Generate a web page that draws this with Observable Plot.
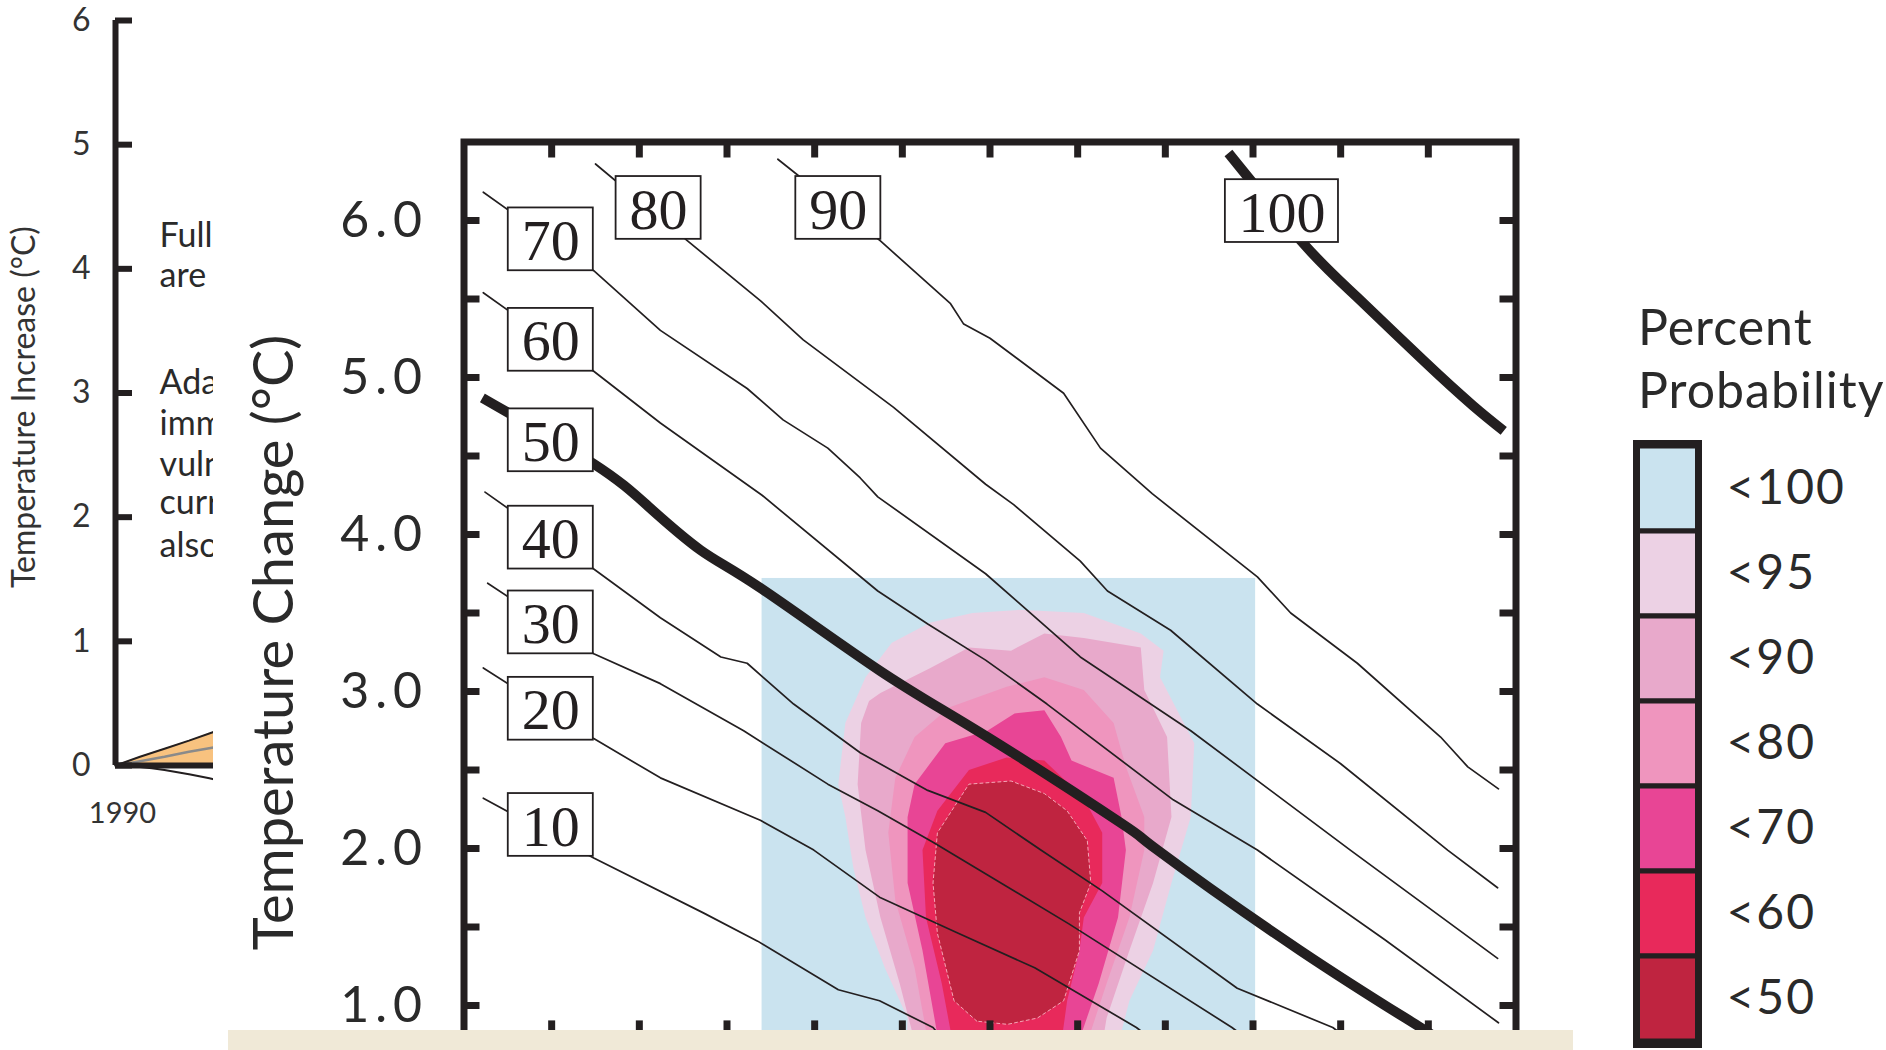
<!DOCTYPE html>
<html><head><meta charset="utf-8">
<script src="https://cdn.jsdelivr.net/npm/d3@7"></script>
<script src="https://cdn.jsdelivr.net/npm/@observablehq/plot@0.6"></script>
<style>
html,body{margin:0;padding:0;background:#fff;width:1886px;height:1050px;overflow:hidden;position:relative;font-family:Lato,sans-serif;color:#231f20}
#left{position:absolute;left:0;top:0}
#main{position:absolute;left:213px;top:0}
#legend{position:absolute;left:1600px;top:0}
#ltitle{position:absolute;left:1638px;top:295px;font-size:50px;line-height:63px;color:#2a2a2a;letter-spacing:1px}
#beige{position:absolute;left:228px;top:1030px;width:1345px;height:20px;background:#f0e9d7}
#main g[aria-label="y-axis tick label"] text{letter-spacing:6px}
#legend g[aria-label="y-axis tick label"] text{letter-spacing:2px}
</style></head><body>
<div id="left"></div><div id="main"></div><div id="legend"></div>
<div id="ltitle">Percent<br>Probability</div>
<div id="beige"></div>
<script>
// ---------- left (cropped) panel ----------
const leftYears = [1990, 1995, 2000, 2005, 2010];
const leftUpper = [0, 0.07, 0.135, 0.2, 0.27];
const leftMid   = [0, 0.035, 0.07, 0.11, 0.145];
const leftLower = [0, -0.01, -0.035, -0.07, -0.11];
const leftTicks = [0, 1, 2, 3, 4, 5, 6];
const leftNotes = ["Full", "are", "Ada", "imm", "vuln", "curr", "also"];
const leftNoteY = [4.26, 3.94, 3.08, 2.75, 2.42, 2.11, 1.77];
const leftNoteYear = 1999;

// ---------- main chart ----------
const yLabels = [1, 2, 3, 4, 5, 6];
const yTicks = [1, 1.5, 2, 2.5, 3, 3.5, 4, 4.5, 5, 5.5, 6];
const xTicks = [1, 2, 3, 4, 5, 6, 7, 8, 9, 10, 11];

const line10 = [[0.22,2.32],[1.48,1.94],[2.73,1.59],[3.35,1.41],[4.27,1.10],[4.74,1.03],[5.35,0.86],[5.5,0.76]];
const line20 = [[0.22,3.15],[1.48,2.70],[2.24,2.45],[3.38,2.18],[3.99,1.99],[4.74,1.69],[5.6,1.47],[6.51,1.24],[7.67,0.86],[7.9,0.76]];
const line30 = [[0.27,3.69],[1.48,3.24],[2.24,3.05],[3.19,2.75],[4.15,2.41],[4.72,2.24],[5.35,2.04],[6.90,1.52],[8.76,0.86],[8.95,0.78]];
const line40 = [[0.24,4.27],[1.48,3.78],[2.24,3.47],[2.93,3.22],[3.23,3.18],[3.76,2.92],[4.52,2.61],[5.29,2.37],[5.95,2.23],[6.58,1.99],[7.28,1.73],[8.82,1.11],[9.91,0.86],[10.1,0.78]];
const line50 = [[0.21,4.87],[1.48,4.45],[2.1,4.18],[2.70,3.90],[3.38,3.66],[4.75,3.13],[5.97,2.71],[7.50,2.16],[7.91,1.99],[9.54,1.35],[10.91,0.86],[11.1,0.78]];
const line60 = [[0.22,5.54],[1.48,5.04],[2.24,4.71],[3.4,4.25],[4.72,3.64],[5.29,3.43],[5.95,3.20],[6.65,2.92],[8.09,2.31],[9.05,1.99],[10.5,1.42],[11.8,0.89]];
const line70 = [[0.22,6.18],[1.48,5.68],[2.24,5.30],[3.23,4.93],[3.64,4.73],[4.15,4.55],[4.52,4.36],[4.72,4.24],[5.95,3.75],[7.03,3.22],[8.29,2.75],[10.11,1.99],[11.79,1.30]];
const line80 = [[1.50,6.36],[2.55,5.87],[3.38,5.49],[3.87,5.24],[4.90,4.81],[5.95,4.32],[6.27,4.19],[7.03,3.83],[7.34,3.64],[8.06,3.39],[9.05,2.92],[10.00,2.54],[11.22,1.99],[11.79,1.75]];
const line90 = [[3.58,6.39],[4.75,5.87],[5.55,5.47],[5.70,5.34],[6.0,5.25],[6.84,4.90],[7.26,4.55],[7.85,4.26],[9.05,3.73],[9.43,3.50],[10.19,3.18],[11.14,2.71],[11.45,2.52],[11.80,2.38]];
const line100 = [[8.72,6.43],[9.58,5.85],[10.19,5.51],[10.94,5.11],[11.51,4.82],[11.86,4.66]];

const contourNames = ["10","20","30","40","50","60","70","80","90","100"];
const contourLabelX = [0.99,0.99,0.99,0.99,0.99,0.99,0.99,2.22,4.27,9.33];
const contourLabelY = [2.15,2.89,3.44,3.98,4.60,5.24,5.88,6.08,6.08,6.06];
const thickNames = ["50","100"];

const levels = ["<100", "<95", "<90", "<80", "<70", "<60", "<50"];
const levelColors = ["#cae3ef", "#ecd1e4", "#e8a9cb", "#ef95be", "#e84595", "#e8295b", "#bf2440"];

const blueBox = {level: "<100", x1: 3.40, x2: 9.03, y1: 0.75, y2: 3.72};
const blob95 = [[5.05,0.75],[5.06,0.92],[4.80,1.24],[4.58,1.56],[4.44,1.88],[4.35,2.20],[4.27,2.41],[4.35,2.80],[4.58,3.09],[4.88,3.31],[5.32,3.44],[5.8,3.50],[6.33,3.52],[7.07,3.50],[7.72,3.37],[7.98,3.26],[7.94,3.09],[8.33,2.67],[8.29,2.20],[8.07,1.78],[7.86,1.35],[7.59,1.03],[7.46,0.75]];
const blob90 = [[5.15,0.75],[4.97,1.14],[4.75,1.56],[4.58,1.99],[4.49,2.41],[4.53,2.80],[4.62,2.94],[4.75,2.99],[5.32,3.15],[5.76,3.28],[6.24,3.26],[6.62,3.37],[7.07,3.34],[7.72,3.28],[7.76,3.01],[8.02,2.71],[8.07,2.20],[7.86,1.78],[7.59,1.35],[7.33,0.92],[7.28,0.75]];
const blob80 = [[5.30,0.75],[5.14,1.24],[4.92,1.67],[4.84,2.10],[4.92,2.45],[5.14,2.71],[5.54,2.90],[6.19,3.03],[6.62,3.09],[7.07,3.01],[7.41,2.80],[7.55,2.52],[7.76,2.20],[7.76,1.99],[7.59,1.56],[7.33,1.14],[7.10,0.75]];
const blob70 = [[5.42,0.75],[5.23,1.35],[5.06,1.78],[5.06,2.20],[5.14,2.41],[5.49,2.67],[5.97,2.75],[6.28,2.86],[6.62,2.88],[6.81,2.71],[6.93,2.56],[7.41,2.45],[7.50,2.20],[7.55,1.99],[7.46,1.56],[7.24,1.14],[7.00,0.75]];
const blob60 = [[5.58,0.75],[5.45,1.14],[5.27,1.56],[5.23,1.99],[5.40,2.24],[5.76,2.50],[6.19,2.58],[6.62,2.56],[7.07,2.32],[7.28,2.10],[7.28,1.78],[7.07,1.56],[7.02,1.35],[6.88,1.03],[6.81,0.75]];
const blob50 = [[5.85,0.90],[5.59,1.03],[5.40,1.46],[5.35,1.78],[5.40,2.10],[5.62,2.29],[5.76,2.41],[6.24,2.43],[6.62,2.35],[6.88,2.24],[7.11,2.05],[7.15,1.78],[7.02,1.59],[7.02,1.35],[6.84,1.03],[6.54,0.92],[6.2,0.88]];

// ---------- build tables ----------
const INK = "#231f20";
const leftRows = leftYears.map((year, i) => ({year, upper: leftUpper[i], mid: leftMid[i], lower: leftLower[i]}));
const noteRows = leftNotes.map((t, i) => ({t, year: leftNoteYear, v: leftNoteY[i]}));

const lineSets = [line10, line20, line30, line40, line50, line60, line70, line80, line90, line100];
const thinRows = [], thickRows = [];
lineSets.forEach((pts, k) => {
  const name = contourNames[k];
  const target = thickNames.includes(name) ? thickRows : thinRows;
  pts.forEach(([x, y]) => target.push({name, x, y}));
});
const labelRows = contourNames.map((name, i) => ({name, x: contourLabelX[i], y: contourLabelY[i], hw: name.length > 2 ? 0.645 : 0.485}));

const blobSets = [["<95", blob95], ["<90", blob90], ["<80", blob80], ["<70", blob70], ["<60", blob60], ["<50", blob50]];
const blobRows = [];
blobSets.forEach(([level, pts]) => pts.forEach(([x, y]) => blobRows.push({level, x, y})));
const core = blob50.map(([x, y]) => ({x, y}));

// ---------- left panel ----------
const leftPlot = Plot.plot({
  width: 213, height: 840,
  marginLeft: 115, marginRight: 0, marginTop: 20, marginBottom: 75,
  x: {domain: [1990, 2010], axis: null},
  y: {domain: [0, 6], axis: null},
  style: {fontFamily: "Lato, sans-serif", color: "#333", background: "transparent", overflow: "visible"},
  marks: [
    Plot.areaY(leftRows, {x: "year", y1: 0, y2: "upper", fill: "#f8c27f"}),
    Plot.line(leftRows, {x: "year", y: "mid", stroke: "#8a8a8a", strokeWidth: 2.5}),
    Plot.line(leftRows, {x: "year", y: "upper", stroke: INK, strokeWidth: 2}),
    Plot.line(leftRows, {x: "year", y: "lower", stroke: INK, strokeWidth: 2, curve: "basis"}),
    Plot.ruleY([0], {stroke: INK, strokeWidth: 6}),
    Plot.ruleX([1990], {stroke: INK, strokeWidth: 6}),
    Plot.tickY(leftTicks, {y: d => d, insetRight: 81, stroke: INK, strokeWidth: 6}),
    Plot.axisY(leftTicks, {tickSize: 0, tickPadding: 25, fontSize: 32, tickFormat: d3.format("d"), label: null}),
    Plot.axisX([1990], {tickSize: 0, tickPadding: 37, dx: 7, fontSize: 29, tickFormat: d3.format("d"), label: null}),
    Plot.text(["Temperature Increase (°C)"], {text: d => d, frameAnchor: "left", rotate: -90, textAnchor: "middle", dx: -91, dy: 14, fontSize: 32}),
    Plot.text(noteRows, {x: "year", y: "v", text: "t", textAnchor: "start", fontSize: 34, fill: "#2a2a2a"})
  ]
});
document.getElementById("left").append(leftPlot);

// ---------- main chart ----------
const W = 1350, H = 1050, ML = 250.5, MR = 47.5, MT = 141.5, MB = 13.6;
const frameW = W - ML - MR, frameH = H - MT - MB;
const mainPlot = Plot.plot({
  width: W, height: H,
  marginLeft: ML, marginRight: MR, marginTop: MT, marginBottom: MB,
  x: {domain: [0, 12], axis: null},
  y: {domain: [0.8, 6.5], axis: null},
  color: {domain: levels, range: levelColors},
  style: {fontFamily: "Lato, sans-serif", color: "#2a2a2a", background: "white"},
  marks: [
    Plot.rect([blueBox], {x1: "x1", x2: "x2", y1: "y1", y2: "y2", fill: d => d.level}),
    Plot.line(blobRows, {x: "x", y: "y", z: "level", fill: "level", stroke: "none", curve: "linear-closed"}),
    Plot.line(core, {x: "x", y: "y", curve: "linear-closed", stroke: "#f4a7b6", strokeWidth: 1, strokeDasharray: "3,3"}),
    Plot.line(thinRows, {x: "x", y: "y", z: "name", stroke: INK, strokeWidth: 1.7}),
    Plot.line(thickRows, {x: "x", y: "y", z: "name", stroke: INK, strokeWidth: 10, strokeLinecap: "butt", curve: "natural"}),
    Plot.rect(labelRows, {x1: d => d.x - d.hw, x2: d => d.x + d.hw, y1: d => d.y - 0.2, y2: d => d.y + 0.2, fill: "white", stroke: INK, strokeWidth: 1.8}),
    Plot.text(labelRows, {x: "x", y: "y", text: "name", fontFamily: "'Liberation Serif', serif", fontSize: 58, fill: INK, dy: 2}),
    Plot.frame({stroke: INK, strokeWidth: 7}),
    Plot.tickY(yTicks, {y: d => d, insetRight: frameW - 16, stroke: INK, strokeWidth: 7}),
    Plot.tickY(yTicks, {y: d => d, insetLeft: frameW - 16, stroke: INK, strokeWidth: 7}),
    Plot.tickX(xTicks, {x: d => d, insetBottom: frameH - 16, stroke: INK, strokeWidth: 7}),
    Plot.tickX(xTicks, {x: d => d, insetTop: frameH - 16, stroke: INK, strokeWidth: 7}),
    Plot.axisY(yLabels, {tickSize: 0, tickPadding: 36, tickFormat: d => d.toFixed(1), fontSize: 50, label: null}),
    Plot.text(["Temperature Change (°C)"], {text: d => d, frameAnchor: "left", rotate: -90, textAnchor: "middle", dx: 62 - ML, dy: 53, fontSize: 56})
  ]
});
document.getElementById("main").append(mainPlot);

// ---------- legend ----------
const legendPlot = Plot.plot({
  width: 286, height: 1050,
  marginLeft: 36, marginRight: 188, marginTop: 443, marginBottom: 6,
  y: {domain: levels, padding: 0, axis: null},
  color: {domain: levels, range: levelColors},
  style: {fontFamily: "Lato, sans-serif", color: "#2a2a2a", background: "transparent"},
  marks: [
    Plot.cell(levels, {y: d => d, fill: d => d, stroke: INK, strokeWidth: 5}),
    Plot.frame({stroke: INK, strokeWidth: 7}),
    Plot.axisY(levels, {anchor: "right", tickSize: 0, tickPadding: 28, fontSize: 48, label: null})
  ]
});
document.getElementById("legend").append(legendPlot);
</script>
</body></html>
